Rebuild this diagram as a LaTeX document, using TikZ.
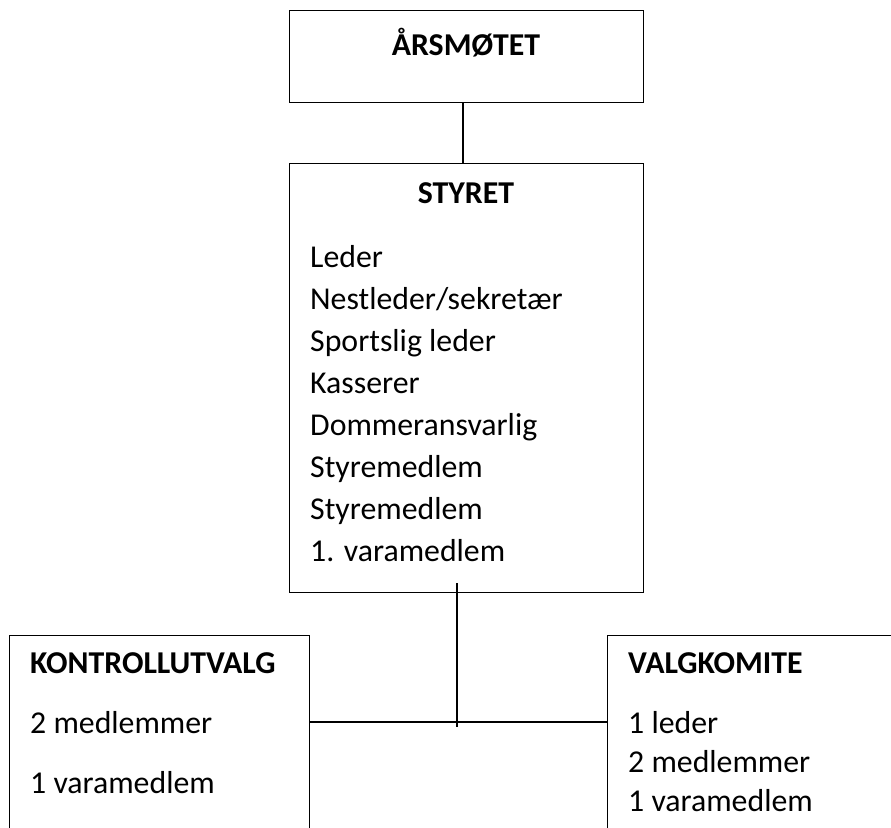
\documentclass[tikz,border=0pt]{standalone}
\usepackage{fontspec}
\setmainfont{Carlito}
\begin{document}
\begin{tikzpicture}[x=1pt,y=-1pt,
  box/.style={draw=black, line width=1.3pt, rectangle, inner sep=0pt, anchor=north west},
  lbl/.style={anchor=base west, inner sep=0pt, font=\fontsize{31.8}{38}\selectfont},
  ttl/.style={anchor=base west, inner sep=0pt, font=\fontsize{31.8}{38}\selectfont\bfseries},
  conn/.style={draw=black, line width=1.3pt}]
\useasboundingbox (0,0) rectangle (891,827);
% boxes
\node[box, minimum width=354pt, minimum height=92pt] (ars) at (289,10) {};
\node[box, minimum width=354pt, minimum height=429pt] (styret) at (289,163) {};
\node[box, minimum width=300pt, minimum height=250pt] (kontroll) at (9,635) {};
\node[box, minimum width=330pt, minimum height=250pt] (valg) at (607,635) {};
% titles
\node[ttl, anchor=base] (t1) at (466,55) {ÅRSMØTET};
\node[ttl, anchor=base] (t2) at (466,203) {STYRET};
% styret lines
\node[lbl] (s1) at (310,267) {Leder};
\node[lbl] (s2) at (310,309.1) {Nestleder/sekretær};
\node[lbl] (s3) at (310,351.2) {Sportslig leder};
\node[lbl] (s4) at (310,393.3) {Kasserer};
\node[lbl] (s5) at (310,435.4) {Dommeransvarlig};
\node[lbl] (s6) at (310,477.5) {Styremedlem};
\node[lbl] (s7) at (310,519.6) {Styremedlem};
\node[lbl] (s8) at (310,561.7) {1. varamedlem};
% kontrollutvalg
\node[ttl] (k0) at (30,673) {KONTROLLUTVALG};
\node[lbl] (k1) at (30,733) {2 medlemmer};
\node[lbl] (k2) at (30,793) {1 varamedlem};
% valgkomite
\node[ttl] (v0) at (628,673) {VALGKOMITE};
\node[lbl] (v1) at (628,733) {1 leder};
\node[lbl] (v2) at (628,772) {2 medlemmer};
\node[lbl] (v3) at (628,811) {1 varamedlem};
% connectors
\coordinate (c1) at (463,0);
\draw[conn] (ars.south -| c1) -- (styret.north -| c1);
\coordinate (jt) at (457,583);
\coordinate (jb) at (457,727);
\draw[conn] (jt) -- (jb);
\coordinate (h) at (0,722);
\draw[conn] (kontroll.east |- h) -- (valg.west |- h);
\end{tikzpicture}
\end{document}
